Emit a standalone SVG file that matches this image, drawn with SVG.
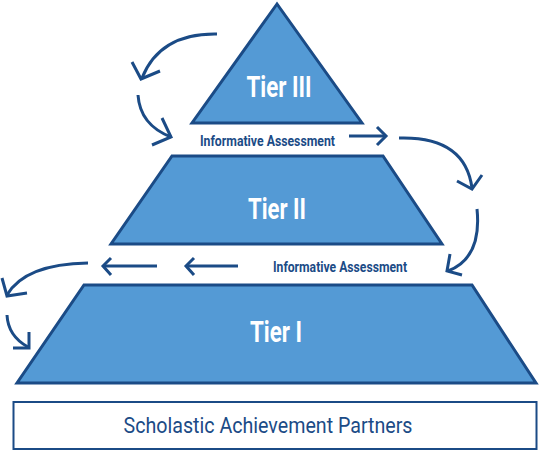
<svg xmlns="http://www.w3.org/2000/svg" width="539" height="451" viewBox="0 0 539 451">
<style>
.tier{fill:#549ad5;stroke:#1b4b86;stroke-width:3;stroke-linejoin:miter}
.lbl{font-family:Roboto,"Liberation Sans",sans-serif;font-weight:bold;fill:#ffffff;text-anchor:middle}
.ia{font-family:Roboto,"Liberation Sans",sans-serif;font-weight:bold;fill:#1b4b86;font-size:14px}
.arr{fill:none;stroke:#1b4b86;stroke-width:3;stroke-linecap:butt;stroke-linejoin:miter}
</style>
<rect width="539" height="451" fill="#ffffff"/>
<g id="tier3">
<polygon class="tier" points="277,4 192,123 362,123"/>
<text class="lbl" x="279" y="97" font-size="29" textLength="65" lengthAdjust="spacingAndGlyphs">Tier III</text>
</g>
<g id="tier2">
<polygon class="tier" points="172,156 383,156 442,244 111,244"/>
<text class="lbl" x="277" y="219" font-size="29" textLength="58" lengthAdjust="spacingAndGlyphs">Tier II</text>
</g>
<g id="tier1">
<polygon class="tier" points="84,285 472,285 536,383 17,383"/>
<text class="lbl" x="276" y="342" font-size="29" textLength="52" lengthAdjust="spacingAndGlyphs">Tier I</text>
</g>
<g id="label1">
<text class="ia" x="200" y="146" textLength="135" lengthAdjust="spacingAndGlyphs">Informative Assessment</text>
</g>
<g id="label2">
<text class="ia" x="273" y="272" textLength="134" lengthAdjust="spacingAndGlyphs">Informative Assessment</text>
</g>
<g id="partners">
<rect x="13.5" y="402" width="523" height="47" fill="#ffffff" stroke="#1b4b86" stroke-width="2"/>
<text x="268" y="433" font-family="Roboto,'Liberation Sans',sans-serif" font-size="22" fill="#1b4b86" text-anchor="middle" textLength="289" lengthAdjust="spacingAndGlyphs">Scholastic Achievement Partners</text>
</g>
<g id="connectors">
<path class="arr" d="M217,34 Q160,33 142,78"/>
<path class="arr" d="M132,62 L141,79 L160,71"/>
<path class="arr" d="M138,95 Q140,125 171,137"/>
<path class="arr" d="M162,118 L171,137 L152,145"/>
<path class="arr" d="M349,136 L385,136"/>
<path class="arr" d="M377,127 L386,136 L377,145"/>
<path class="arr" d="M399,138 Q465,136 472,188"/>
<path class="arr" d="M457,181 L472,189 L482,175"/>
<path class="arr" d="M477,209 Q482,258 448,271"/>
<path class="arr" d="M450,254 L447,271 L462,275"/>
<path class="arr" d="M238,266 L187,266"/>
<path class="arr" d="M194,258 L186,266 L194,275"/>
<path class="arr" d="M157,266 L104,266"/>
<path class="arr" d="M111,258 L103,266 L111,275"/>
<path class="arr" d="M88,263 Q25,264 7,295"/>
<path class="arr" d="M2,278 L7,296 L27,293"/>
<path class="arr" d="M7,315 Q8,336 28,347"/>
<path class="arr" d="M29,332 L29,348 L13,348"/>
</g>
</svg>
